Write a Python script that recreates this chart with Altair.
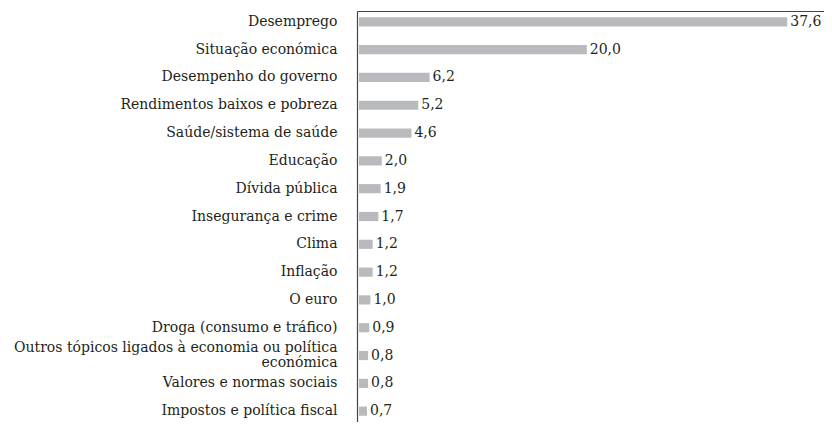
import altair as alt
import pandas as pd

categories = [
    "Desemprego",
    "Situação económica",
    "Desempenho do governo",
    "Rendimentos baixos e pobreza",
    "Saúde/sistema de saúde",
    "Educação",
    "Dívida pública",
    "Insegurança e crime",
    "Clima",
    "Inflação",
    "O euro",
    "Droga (consumo e tráfico)",
    "Outros tópicos ligados à economia ou política económica",
    "Valores e normas sociais",
    "Impostos e política fiscal",
]
values = [37.6, 20.0, 6.2, 5.2, 4.6, 2.0, 1.9, 1.7, 1.2, 1.2, 1.0, 0.9, 0.8, 0.8, 0.7]

df = pd.DataFrame({"cat": categories, "val": values})
df["lbl"] = [f"{v:.1f}".replace(".", ",") for v in values]

FONT = "DejaVu Serif"
TXT = "#231f20"
long_label = "Outros tópicos ligados à economia ou política económica"
test_long = f"datum.value == '{long_label}'"

y_enc = alt.Y(
    "cat:N",
    sort=categories,
    scale=alt.Scale(paddingInner=0.67, paddingOuter=0.225),
    axis=alt.Axis(
        title=None,
        ticks=False,
        domain=True,
        domainColor="#444444",
        domainWidth=1.2,
        labelFont=FONT,
        labelFontSize=14,
        labelColor=TXT,
        labelPadding=20,
        labelLimit=400,
        labelLineHeight=15,
        labelOffset={"condition": {"test": test_long, "value": -7.5}, "value": 0},
        labelExpr=f"{test_long} ? ['Outros tópicos ligados à economia ou política', 'económica'] : datum.value",
    ),
)

x_enc = alt.X(
    "val:Q",
    scale=alt.Scale(domain=[0, 41], nice=False),
    axis=alt.Axis(
        orient="top",
        title=None,
        labels=False,
        ticks=False,
        grid=False,
        domain=True,
        domainColor="#444444",
        domainWidth=1.2,
    ),
)

base = alt.Chart(df)
bars = base.mark_bar(color="#b9babd", xOffset=2).encode(x=x_enc, y=y_enc)
text = base.mark_text(
    align="left", baseline="middle", dx=5, font=FONT, fontSize=14, color=TXT
).encode(x="val:Q", y=alt.Y("cat:N", sort=categories), text="lbl:N")

chart = (
    (bars + text)
    .properties(
        width=467,
        height=411,
        padding={"left": 349, "top": 3, "right": 0, "bottom": 0},
        autosize=alt.AutoSizeParams(type="none"),
    )
    .configure_view(stroke=None)
)

chart.save("out.html", embed_options={"renderer": "svg", "actions": False})
